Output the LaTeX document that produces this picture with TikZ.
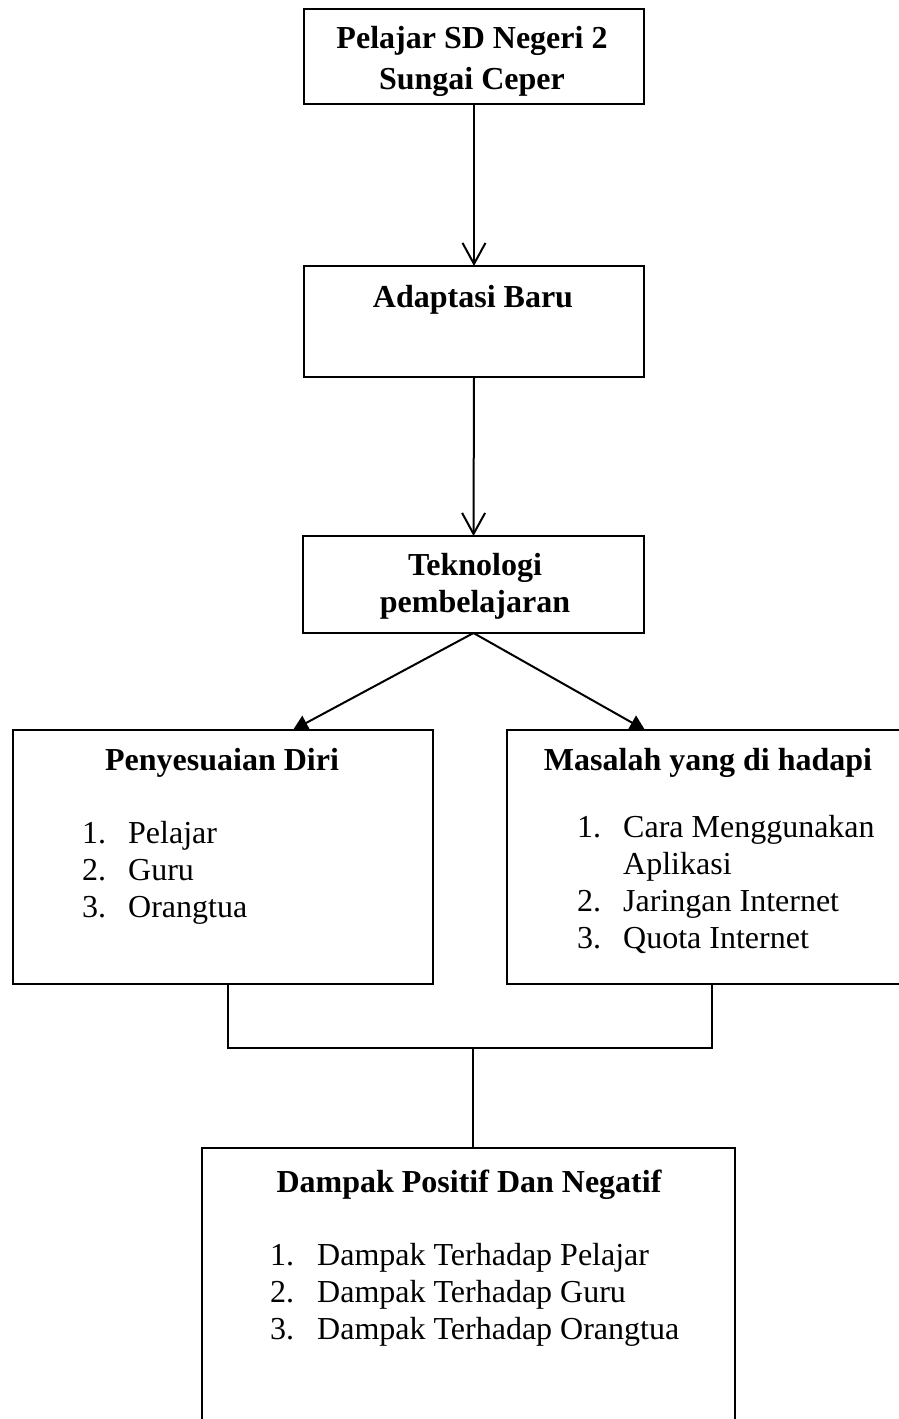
\documentclass[tikz,border=0pt]{standalone}
\usepackage{fontspec}
\setmainfont{Liberation Serif}
\usetikzlibrary{arrows.meta}
\begin{document}
\begin{tikzpicture}[x=1pt,y=-1pt,
  box/.style={draw=black,line width=1.5pt,inner sep=0pt,outer sep=0pt,rectangle},
  hd/.style={anchor=base,inner sep=0pt,font=\fontsize{32}{38}\selectfont\bfseries},
  itm/.style={anchor=base west,inner sep=0pt,font=\fontsize{32}{38}\selectfont},
  openarr/.style={line width=2pt,-{Straight Barb[length=21pt,width=23pt,line width=2pt]}},
  fillarr/.style={line width=2pt,-{Triangle[length=15pt,width=16pt]}},
  link/.style={line width=1.6pt}]
\useasboundingbox (0,0) rectangle (899,1419);
\clip (0,0) rectangle (899,1419);
\fill[white] (0,0) rectangle (899,1419);
% boxes
\node[box,minimum width=340pt,minimum height=95pt] (b1) at (474,56.5) {};
\node[box,minimum width=340pt,minimum height=111pt] (b2) at (474,321.5) {};
\node[box,minimum width=341pt,minimum height=97pt] (b3) at (473.5,584.5) {};
\node[box,minimum width=420pt,minimum height=254pt] (b4) at (223,857) {};
\node[box,minimum width=402pt,minimum height=254pt] (b5) at (708,857) {};
\node[box,minimum width=533pt,minimum height=320pt] (b6) at (468.5,1308) {};
% texts
\node[hd] (t1a) at (472,48) {Pelajar SD Negeri 2};
\node[hd] (t1b) at (472,89) {Sungai Ceper};
\node[hd] (t2) at (473,307) {Adaptasi Baru};
\node[hd] (t3a) at (475,575) {Teknologi};
\node[hd] (t3b) at (475,612) {pembelajaran};
\node[hd] (t4) at (222,770) {Penyesuaian Diri};
\node[itm] (n41) at (82,843) {1.};
\node[itm] (i41) at (128,843) {Pelajar};
\node[itm] (n42) at (82,880) {2.};
\node[itm] (i42) at (128,880) {Guru};
\node[itm] (n43) at (82,917) {3.};
\node[itm] (i43) at (128,917) {Orangtua};
\node[hd] (t5) at (708,770) {Masalah yang di hadapi};
\node[itm] (n51) at (577,837) {1.};
\node[itm] (i51) at (623,837) {Cara Menggunakan};
\node[itm] (i51b) at (623,874) {Aplikasi};
\node[itm] (n52) at (577,911) {2.};
\node[itm] (i52) at (623,911) {Jaringan Internet};
\node[itm] (n53) at (577,948) {3.};
\node[itm] (i53) at (623,948) {Quota Internet};
\node[hd] (t6) at (469,1192) {Dampak Positif Dan Negatif};
\node[itm] (n61) at (270,1265) {1.};
\node[itm] (i61) at (317,1265) {Dampak Terhadap Pelajar};
\node[itm] (n62) at (270,1302) {2.};
\node[itm] (i62) at (317,1302) {Dampak Terhadap Guru};
\node[itm] (n63) at (270,1339) {3.};
\node[itm] (i63) at (317,1339) {Dampak Terhadap Orangtua};
% connectors
\draw[openarr] (b1.south) -- (b2.north);
\draw[openarr] (b2.south) -- (b3.north);
\coordinate (lt) at (293,730);
\coordinate (rt) at (645,730);
\draw[fillarr] (b3.south) -- (lt);
\draw[fillarr] (b3.south) -- (rt);
\coordinate (c4) at (228,984);
\coordinate (c5) at (712,984);
\coordinate (jl) at (228,1048);
\coordinate (jr) at (712,1048);
\coordinate (jm) at (473,1048);
\coordinate (c6) at (473,1148);
\draw[link] (c4) -- (jl) -- (jr) -- (c5);
\draw[link] (jm) -- (c6);
\end{tikzpicture}
\end{document}
